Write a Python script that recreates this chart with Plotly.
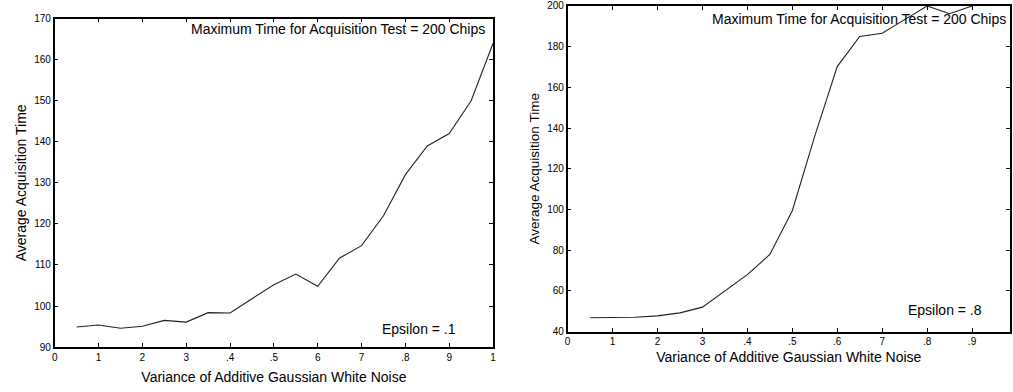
import plotly.graph_objects as go

# ---- data ----
noise_var = [0.05, 0.10, 0.15, 0.20, 0.25, 0.30, 0.35, 0.40, 0.45, 0.50,
             0.55, 0.60, 0.65, 0.70, 0.75, 0.80, 0.85, 0.90, 0.95, 1.00]
acq_eps_01 = [94.9, 95.4, 94.6, 95.1, 96.5, 96.1, 98.4, 98.3, 101.8, 105.2,
              107.8, 104.8, 111.7, 114.7, 122.0, 132.0, 139.0, 142.0, 150.0, 164.0]

noise_var_r = [0.05, 0.10, 0.15, 0.20, 0.25, 0.30, 0.35, 0.40, 0.45, 0.50,
               0.55, 0.60, 0.65, 0.70, 0.75, 0.80, 0.85, 0.90]
acq_eps_08 = [46.8, 46.8, 47.0, 47.7, 49.2, 52.0, 60.0, 68.0, 77.9, 99.4,
              136.0, 170.2, 185.0, 186.6, 193.3, 200.0, 196.2, 200.0]

x_tick_vals = [0, 0.1, 0.2, 0.3, 0.4, 0.5, 0.6, 0.7, 0.8, 0.9, 1.0]
x_tick_text_l = ["0", "1", "2", "3", ".4", ".5", "6", "7", ".8", "9", "1"]
x_tick_text_r = ["0", "1", "2", "3", ".4", ".5", ".6", "7", ".8", ".9", "1"]
y_ticks_l = [90, 100, 110, 120, 130, 140, 150, 160, 170]
y_ticks_r = [40, 60, 80, 100, 120, 140, 160, 180, 200]

FONT = "Liberation Sans, Arial, sans-serif"
INK = "#000000"

fig = go.Figure()
fig.add_trace(go.Scatter(x=noise_var, y=acq_eps_01, mode="lines",
                         line=dict(color="#222222", width=1.1),
                         xaxis="x", yaxis="y", showlegend=False))
fig.add_trace(go.Scatter(x=noise_var_r, y=acq_eps_08, mode="lines",
                         line=dict(color="#222222", width=1.1),
                         xaxis="x2", yaxis="y2", showlegend=False))

common = dict(showgrid=False, zeroline=False, showline=True, linecolor=INK,
              linewidth=1.5, ticks="inside", ticklen=4, tickcolor=INK,
              tickfont=dict(family=FONT, size=10, color=INK))

fig.update_layout(
    width=1013, height=392,
    margin=dict(l=0, r=0, t=0, b=0),
    paper_bgcolor="white", plot_bgcolor="white",
    font=dict(family=FONT, color=INK),
    xaxis=dict(domain=[52/1013, 493/1013], range=[0, 1], anchor="y",
               tickvals=x_tick_vals, ticktext=x_tick_text_l, mirror="ticks",
               title=dict(text="Variance of Additive Gaussian White Noise",
                          font=dict(family=FONT, size=14, color=INK), standoff=10),
               **common),
    yaxis=dict(domain=[(392-352)/392, (392-14)/392], range=[90, 170], anchor="x",
               tickvals=y_ticks_l, mirror="ticks",
               title=dict(text="Average Acquisition Time",
                          font=dict(family=FONT, size=14, color=INK), standoff=4),
               **common),
    xaxis2=dict(domain=[568/1013, 1.0], range=[0, (1013-568)/452], anchor="y2",
                tickvals=x_tick_vals, ticktext=x_tick_text_r, mirror="ticks",
                title=dict(text="Variance of Additive Gaussian White Noise",
                           font=dict(family=FONT, size=14, color=INK), standoff=6),
                **common),
    yaxis2=dict(domain=[(392-336)/392, (392-1)/392], range=[40, 200], anchor="x2",
                tickvals=y_ticks_r, mirror="ticks",
                title=dict(text="Average Acquisition Time",
                           font=dict(family=FONT, size=13.5, color=INK), standoff=4),
                **common),
    annotations=[
        dict(text="Maximum Time for Acquisition Test = 200 Chips", xref="x", yref="y",
             x=0.986, y=167.5, xanchor="right", yanchor="middle", showarrow=False,
             font=dict(family=FONT, size=14, color=INK)),
        dict(text="Epsilon = .1", xref="x", yref="y",
             x=0.921, y=94.5, xanchor="right", yanchor="middle", showarrow=False,
             font=dict(family=FONT, size=14, color=INK)),
        dict(text="Maximum Time for Acquisition Test = 200 Chips", xref="x2", yref="y2",
             x=0.98, y=193.8, xanchor="right", yanchor="middle", showarrow=False,
             font=dict(family=FONT, size=14, color=INK)),
        dict(text="Epsilon = .8", xref="x2", yref="y2",
             x=0.927, y=50.5, xanchor="right", yanchor="middle", showarrow=False,
             font=dict(family=FONT, size=14, color=INK)),
    ],
)

fig.write_html("out.html")
